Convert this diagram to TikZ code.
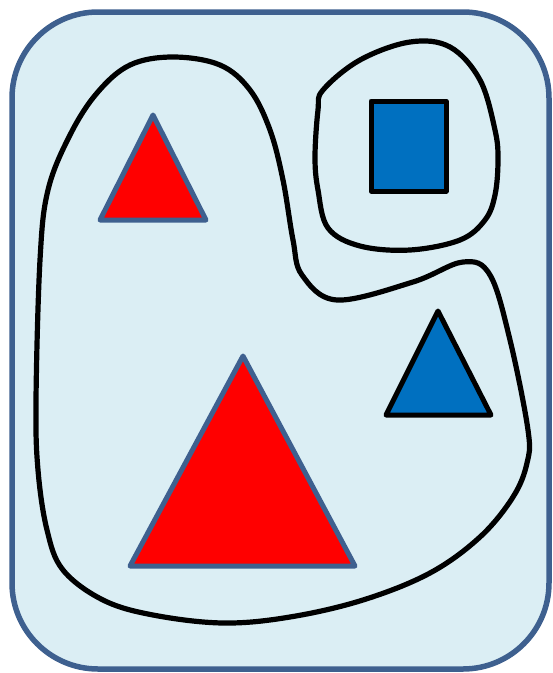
\documentclass[tikz,border=0pt]{standalone}
\begin{document}
\begin{tikzpicture}[x=1pt,y=-1pt,
  frame/.style={draw=frameblue,line width=5.5pt,fill=bgblue,rounded corners=86pt},
  blob/.style={draw=black,line width=5.2pt},
  redtri/.style={draw=frameblue,line width=5pt,fill=red,line join=round},
  bluetri/.style={draw=black,line width=5pt,fill=shapeblue,line join=round}]
\definecolor{bgblue}{RGB}{219,238,244}
\definecolor{frameblue}{RGB}{62,96,143}
\definecolor{shapeblue}{RGB}{0,112,192}
\useasboundingbox (0,0) rectangle (553,673);
\draw[frame] (12,12) rectangle (549,669);
% main blob
\draw[blob] plot[smooth cycle,tension=0.6] coordinates {
 (173,57) (220,65) (250,90) (270,130) (283,180) (293,240) (302,275) (337,300)
 (413,282) (463,262) (490,275) (510,340) (528,430) (527,463) (513,497) (480,537)
 (430,573) (363,600) (290,617) (223,623) (153,615) (103,600) (63,570) (47,530)
 (38,470) (36,400) (40,260) (48,190) (70,135) (97,93) (130,65)};
% small blob
\draw[blob] plot[smooth cycle,tension=0.6] coordinates {
 (410,42) (450,47) (480,80) (495,130) (498,160) (495,195) (485,220) (460,240)
 (410,250) (360,246) (328,228) (318,190) (315,157) (318,110) (323,90) (360,60)};
% shapes
\draw[redtri] (153,115) -- (206,220) -- (100,220) -- cycle;
\draw[redtri] (243,356) -- (355,566) -- (130,566) -- cycle;
\draw[bluetri] (438,311) -- (491,415) -- (386,415) -- cycle;
\draw[bluetri] (371,101) rectangle (446,191);
\end{tikzpicture}
\end{document}
